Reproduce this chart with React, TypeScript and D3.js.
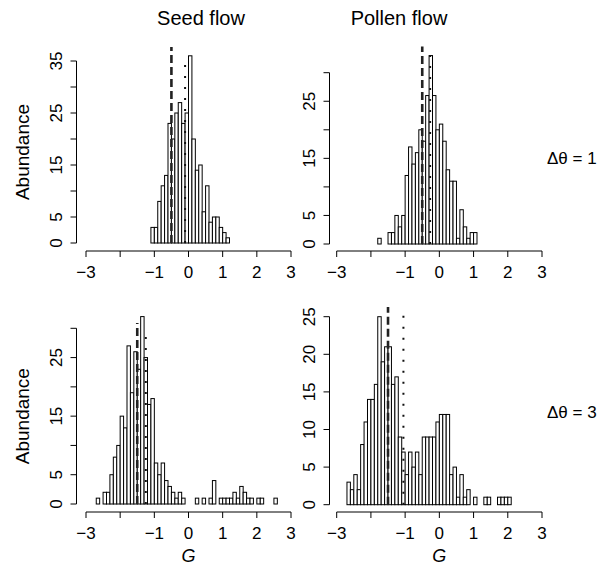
import React from 'react';
import * as d3 from 'd3';

// histogram counts, bin width 0.1, first bin starts at *From
const binWidth = 0.1;

const seed1From = -1.1;
const seed1Counts = [3, 3, 8, 11, 13, 23, 20, 25, 27, 23, 25, 36, 20, 14, 15, 6, 11, 4, 5, 5, 3, 2, 1];

const pollen1From = -1.8;
const pollen1Counts = [1, 0, 0, 2, 2, 5, 3, 5, 12, 17, 14, 16, 20, 18, 26, 33, 26, 20, 21, 18, 13, 11, 11, 1, 6, 3, 1, 2, 2];

const seed3From = -2.7;
const seed3Counts = [
    1, 0, 2, 2, 5, 8, 10, 15, 13, 27, 19, 26, 23, 32, 25, 17, 18, 7, 5, 7, 4, 3, 2, 1, 2, 1,
    0, 0, 0, 1, 0, 1, 0, 1, 4, 0, 1, 1, 1, 1, 2, 1, 3, 2, 1, 1, 0, 1, 1, 0, 0, 0, 1
];

const pollen3From = -2.7;
const pollen3Counts = [
    3, 2, 4, 2, 8, 11, 14, 14, 16, 25, 19, 21, 21, 16, 17, 9, 7, 4, 7, 5, 7, 4, 9, 9, 9, 9, 11, 12, 12, 12,
    4, 5, 1, 4, 1, 2, 0, 1, 0, 0, 1, 1, 0, 0, 1, 1, 1, 1
];

// vertical reference lines [dashed, dotted]
const seed1Lines = [-0.5, -0.1];
const pollen1Lines = [-0.5, -0.27];
const seed3Lines = [-1.5, -1.25];
const pollen3Lines = [-1.5, -1.05];

const xTicks = [-3, -2, -1, 0, 1, 2, 3];
const xLabelTicks = [-3, -1, 0, 1, 2, 3];

const columnTitles = ['Seed flow', 'Pollen flow'];
const rowTitles = ['\u0394\u03b8 = 1', '\u0394\u03b8 = 3'];

const FONT = '"Liberation Sans", Arial, Helvetica, sans-serif';

interface PanelProps {
    counts: number[];
    from: number;
    lines: number[];
    lineTops: number[];
    xRange: [number, number];
    yMax: number;
    yRange: [number, number];
    yLabels: number[];
    axisX: number;
    axisY: number;
    showG: boolean;
    showYTitle: boolean;
}

const fmt = (v: number) => (v < 0 ? '\u2212' + Math.abs(v) : String(v));

const Panel: React.FC<PanelProps> = ({ counts, from, lines, lineTops, xRange, yMax, yRange, yLabels, axisX, axisY, showG, showYTitle }) => {
    const x = d3.scaleLinear().domain([-3, 3]).range(xRange);
    const y = d3.scaleLinear().domain([0, yMax]).range(yRange);
    const yTicks = d3.range(0, yMax + 0.001, 5);
    const tick = 6;

    return (
        <g>
            {/* bars */}
            {counts.map((c, i) => {
                const x0 = from + i * binWidth;
                return (
                    <rect key={i}
                        x={x(x0)} width={x(x0 + binWidth) - x(x0)}
                        y={y(c)} height={y(0) - y(c)}
                        fill="white" stroke="black" strokeWidth={1} />
                );
            })}

            {/* dashed and dotted reference lines */}
            <line x1={x(lines[0])} x2={x(lines[0])} y1={y(0)} y2={y(lineTops[0])}
                stroke="#222" strokeWidth={2.6} strokeDasharray="8,4" />
            <line x1={x(lines[1])} x2={x(lines[1])} y1={y(0)} y2={y(lineTops[1])}
                stroke="#111" strokeWidth={2} strokeDasharray="2,9" />

            {/* x axis */}
            <line x1={x(-3)} x2={x(3)} y1={axisY} y2={axisY} stroke="black" />
            {xTicks.map(t => (
                <line key={t} x1={x(t)} x2={x(t)} y1={axisY} y2={axisY + tick} stroke="black" />
            ))}
            {xLabelTicks.map(t => (
                <text key={t} x={x(t)} y={axisY + 27} textAnchor="middle"
                    fontFamily={FONT} fontSize={17}>{fmt(t)}</text>
            ))}
            {showG && (
                <text x={x(0)} y={axisY + 50} textAnchor="middle" fontFamily={FONT}
                    fontSize={18} fontStyle="italic">G</text>
            )}

            {/* y axis */}
            <line x1={axisX} x2={axisX} y1={y(0)} y2={y(yMax)} stroke="black" />
            {yTicks.map(t => (
                <line key={t} x1={axisX - tick} x2={axisX} y1={y(t)} y2={y(t)} stroke="black" />
            ))}
            {yLabels.map(t => (
                <text key={t} transform={`translate(${axisX - 15},${y(t)}) rotate(-90)`}
                    textAnchor="middle" fontFamily={FONT} fontSize={17}>{t}</text>
            ))}
            {showYTitle && (
                <text transform={`translate(${axisX - 48},${(y(0) + y(yMax)) / 2}) rotate(-90)`}
                    textAnchor="middle" fontFamily={FONT} fontSize={19}>Abundance</text>
            )}
        </g>
    );
};

const App: React.FC = () => {
    const leftX: [number, number] = [86, 291];
    const rightX: [number, number] = [336.7, 542];
    return (
        <svg width={602} height={567} style={{ position: 'absolute', left: 0, top: 0, background: 'white' }}>
            <text x={201} y={25} textAnchor="middle" fontFamily={FONT} fontSize={20}>{columnTitles[0]}</text>
            <text x={399} y={25} textAnchor="middle" fontFamily={FONT} fontSize={20}>{columnTitles[1]}</text>

            <Panel counts={seed1Counts} from={seed1From} lines={seed1Lines} lineTops={[37.7, 35.6]}
                xRange={leftX} yMax={35} yRange={[243, 61]} yLabels={[0, 5, 15, 25, 35]}
                axisX={76.5} axisY={251} showG={false} showYTitle={true} />
            <Panel counts={pollen1Counts} from={pollen1From} lines={pollen1Lines} lineTops={[34.6, 33]}
                xRange={rightX} yMax={30} yRange={[244, 72.7]} yLabels={[0, 5, 15, 25]}
                axisX={329.5} axisY={251} showG={false} showYTitle={false} />
            <Panel counts={seed3Counts} from={seed3From} lines={seed3Lines} lineTops={[30.9, 29.7]}
                xRange={leftX} yMax={30} yRange={[504, 328.3]} yLabels={[0, 5, 15, 25]}
                axisX={76.5} axisY={512} showG={true} showYTitle={true} />
            <Panel counts={pollen3Counts} from={pollen3From} lines={pollen3Lines} lineTops={[26.3, 26.2]}
                xRange={rightX} yMax={25} yRange={[504.7, 316.7]} yLabels={[0, 5, 10, 15, 20, 25]}
                axisX={329.5} axisY={512} showG={true} showYTitle={false} />

            <text x={547} y={164} fontFamily={FONT} fontSize={17}>{rowTitles[0]}</text>
            <text x={547} y={418} fontFamily={FONT} fontSize={17}>{rowTitles[1]}</text>
        </svg>
    );
};

export default App;
